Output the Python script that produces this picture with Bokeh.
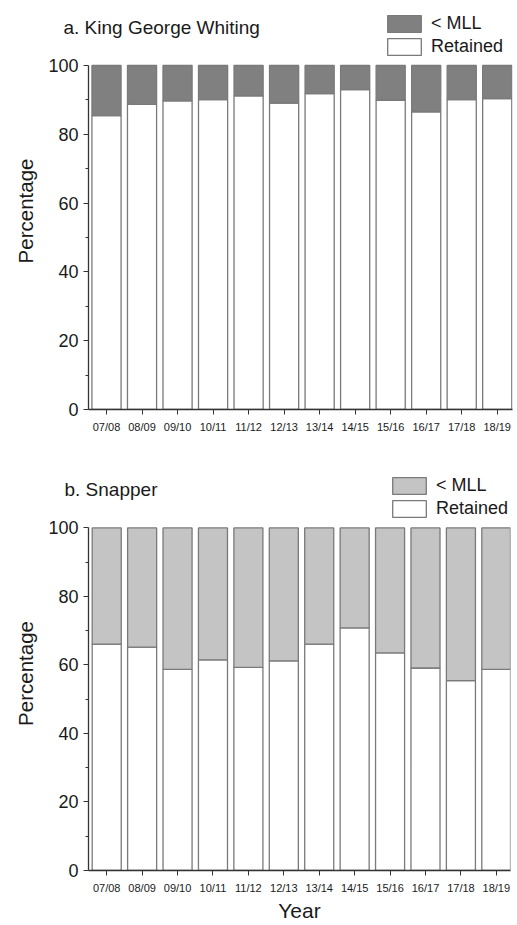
from bokeh.plotting import figure
from bokeh.models import (ColumnDataSource, Range1d, FixedTicker, Legend, LegendItem)
from bokeh.layouts import column
from bokeh.embed import file_html
from bokeh.resources import INLINE

years = ["07/08", "08/09", "09/10", "10/11", "11/12", "12/13",
         "13/14", "14/15", "15/16", "16/17", "17/18", "18/19"]
kgw_retained = [85.4, 88.7, 89.7, 90.1, 91.2, 89.1, 91.8, 93.0, 89.9, 86.5, 90.1, 90.4]
snapper_retained = [66.1, 65.2, 58.7, 61.5, 59.3, 61.2, 66.1, 70.8, 63.5, 59.1, 55.4, 58.7]
y_ticks = [0, 20, 40, 60, 80, 100]
y_minor = [10, 30, 50, 70, 90]

FONT = "Liberation Sans"
TXT = "#1a1a1a"


def make_panel(title, retained, mll_color, width, height, left, top, bottom,
               xstart, xend, ytop, title_offset, title_standoff, legend_loc, xlabel=None,
               xlabel_standoff=2):
    x = list(range(1, len(years) + 1))
    below = [100 - r for r in retained]
    src = ColumnDataSource(dict(x=x, retained=retained, below=below))
    p = figure(width=width, height=height, output_backend="svg", toolbar_location=None,
               x_range=Range1d(xstart, xend), y_range=Range1d(0, ytop),
               min_border_left=left, min_border_top=top, min_border_bottom=bottom,
               min_border_right=3)
    rs = p.vbar_stack(["retained", "below"], x="x", width=0.82, source=src,
                      fill_color=["white", mll_color], line_color="#7a7a7a", line_width=1.3)
    p.outline_line_color = None
    p.xgrid.grid_line_color = None
    p.ygrid.grid_line_color = None
    p.background_fill_color = "white"

    p.title.text = title
    p.title.text_font = FONT
    p.title.text_font_size = "19px"
    p.title.text_font_style = "normal"
    p.title.text_color = TXT
    p.title.align = "left"
    p.title.offset = title_offset
    p.title.standoff = title_standoff

    ya = p.yaxis[0]
    ya.ticker = FixedTicker(ticks=y_ticks, minor_ticks=y_minor)
    ya.bounds = (0, 100)
    ya.axis_label = "Percentage"
    ya.axis_label_text_font = FONT
    ya.axis_label_text_font_size = "20.5px"
    ya.axis_label_text_font_style = "normal"
    ya.axis_label_text_color = TXT
    ya.axis_label_standoff = 8
    ya.major_label_text_font = FONT
    ya.major_label_text_font_size = "18px"
    ya.major_label_text_color = TXT
    ya.major_tick_out = 5
    ya.major_tick_in = 0
    ya.minor_tick_out = 3
    ya.minor_tick_in = 0
    ya.axis_line_color = "#333333"
    ya.major_tick_line_color = "#333333"
    ya.minor_tick_line_color = "#333333"
    ya.axis_line_width = 1.3

    xa = p.xaxis[0]
    xa.ticker = FixedTicker(ticks=x)
    xa.major_label_overrides = {i + 1: y for i, y in enumerate(years)}
    xa.major_label_text_font = FONT
    xa.major_label_text_font_size = "11px"
    xa.major_label_text_color = TXT
    xa.major_tick_out = 5
    xa.major_tick_in = 0
    xa.minor_tick_line_color = None
    xa.axis_line_color = "#333333"
    xa.major_tick_line_color = "#333333"
    xa.axis_line_width = 1.3
    xa.major_label_standoff = 6
    if xlabel:
        xa.axis_label = xlabel
        xa.axis_label_text_font = FONT
        xa.axis_label_text_font_size = "21px"
        xa.axis_label_text_font_style = "normal"
        xa.axis_label_text_color = TXT
        xa.axis_label_standoff = xlabel_standoff

    legend = Legend(items=[LegendItem(label="< MLL", renderers=[rs[1]]),
                           LegendItem(label="Retained", renderers=[rs[0]])],
                    location=legend_loc, padding=0, margin=0, spacing=2,
                    glyph_width=42, glyph_height=21, label_standoff=6,
                    label_text_font=FONT, label_text_font_size="18px",
                    label_text_color=TXT, border_line_color=None,
                    background_fill_alpha=0, label_height=21)
    p.add_layout(legend, "center")
    return p


# top panel: frame 12..409 px, 88..512 px
p1 = make_panel("a. King George Whiting", kgw_retained, "#808080",
                width=515, height=460, left=88, top=12, bottom=51,
                xstart=0.493, xend=12.43, ytop=115.4, title_offset=-25,
                title_standoff=-50, legend_loc=(295, 352))
# bottom panel: frame 476..870 px, 86..510 px
p2 = make_panel("b. Snapper", snapper_retained, "#c4c4c4",
                width=513, height=464, left=86, top=16, bottom=54,
                xstart=0.486, xend=12.40, ytop=115.0, title_offset=-24,
                title_standoff=-46, legend_loc=(300, 351), xlabel="Year")

layout = column(p1, p2, spacing=0)
open("out.html", "w").write(file_html(layout, INLINE))
